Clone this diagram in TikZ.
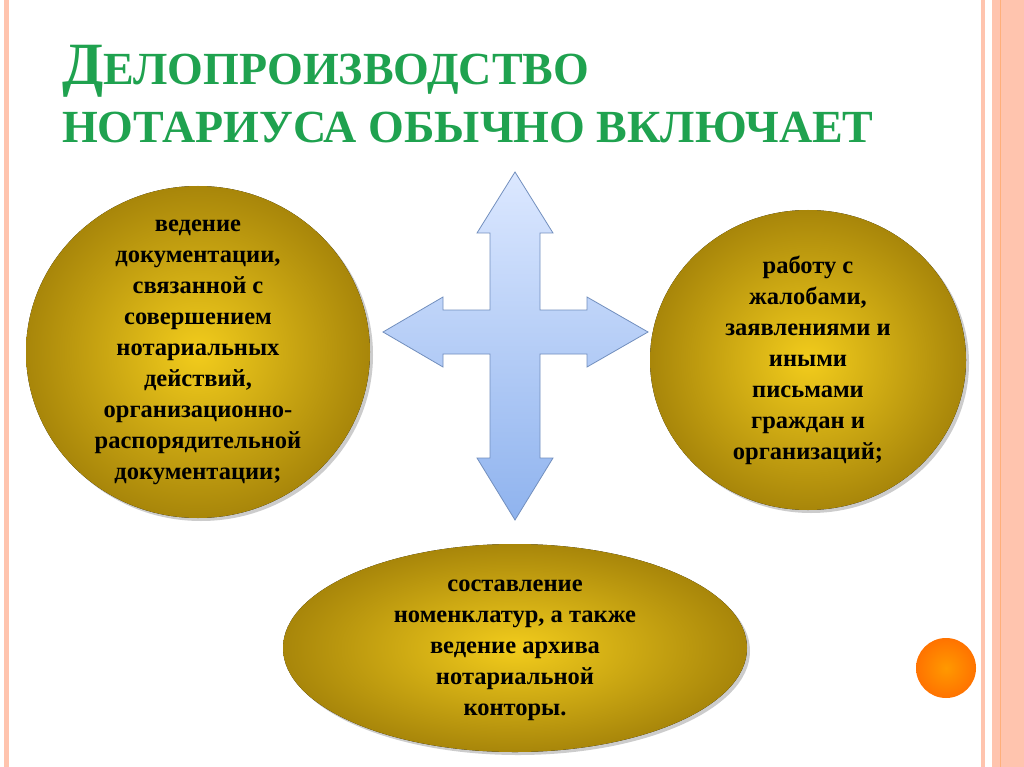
\documentclass[tikz,border=0pt]{standalone}
\usepackage{fontspec}
\setmainfont{Liberation Serif}
\usetikzlibrary{shadows}
\definecolor{ttl}{HTML}{1FA24F}
\definecolor{stripe}{HTML}{FFC4AE}
\definecolor{gold1}{HTML}{F2CC1C}
\definecolor{gold2}{HTML}{A8860A}
\definecolor{arr1}{HTML}{DCE8FF}
\definecolor{arr2}{HTML}{8FB3EE}
\tikzset{
 blob/.style={draw=none, inner color=gold1, outer color=gold2, drop shadow={shadow xshift=3pt,shadow yshift=-3pt,opacity=0.4}},
 btxt/.style={font=\bfseries\fontsize{24.5}{31}\selectfont, align=center, text=black}
}
\begin{document}
\begin{tikzpicture}[x=1pt,y=-1pt]
\useasboundingbox (0,0) rectangle (1024,767);
\fill[white] (0,0) rectangle (1024,767);
% frame stripes
\fill[stripe] (4,0) rectangle (9,767);
\fill[stripe] (981,0) rectangle (985,767);
\fill[stripe] (992,0) rectangle (1024,767);
\fill[stripe!70!orange] (999.5,0) rectangle (1001,767);
% title
\node[anchor=base west, text=ttl, font=\bfseries, inner sep=0pt] (t1) at (62,85) {\fontsize{60}{60}\selectfont Д\fontsize{46}{46}\selectfont ЕЛОПРОИЗВОДСТВО};
\node[anchor=base west, text=ttl, font=\bfseries\fontsize{46}{46}\selectfont, inner sep=0pt] (t2) at (62,143) {НОТАРИУСА ОБЫЧНО ВКЛЮЧАЕТ};
% cross arrow
\path[draw=arr2!80!black, line width=0.8pt, top color=arr1, bottom color=arr2, shading angle=0]
 (515,172) -- (553,233) -- (540,233) -- (540,310) -- (587,310) -- (587,297) -- (648,332)
 -- (587,367) -- (587,354) -- (540,354) -- (540,458) -- (553,458) -- (515,520)
 -- (477,458) -- (490,458) -- (490,354) -- (443,354) -- (443,367) -- (383,332)
 -- (443,297) -- (443,310) -- (490,310) -- (490,233) -- (477,233) -- cycle;
\coordinate (cross) at (515,332);
% blobs
\fill[blob] (198,352) ellipse [x radius=172, y radius=166];
\node[btxt] (l) at (198,352) {ведение\\документации,\\связанной с\\совершением\\нотариальных\\действий,\\организационно-\\распорядительной\\документации;};
\fill[blob] (808,360) ellipse [x radius=158, y radius=150];
\node[btxt] (r) at (808,360) {работу с\\жалобами,\\заявлениями и\\иными\\письмами\\граждан и\\организаций;};
\fill[blob] (515,648) ellipse [x radius=232, y radius=104];
\node[btxt] (b) at (515,650) {составление\\номенклатур, а также\\ведение архива\\нотариальной\\конторы.};
% orange dot
\shade[inner color=orange!80!yellow, outer color=orange!90!red] (946,668) circle (30);
\end{tikzpicture}
\end{document}
